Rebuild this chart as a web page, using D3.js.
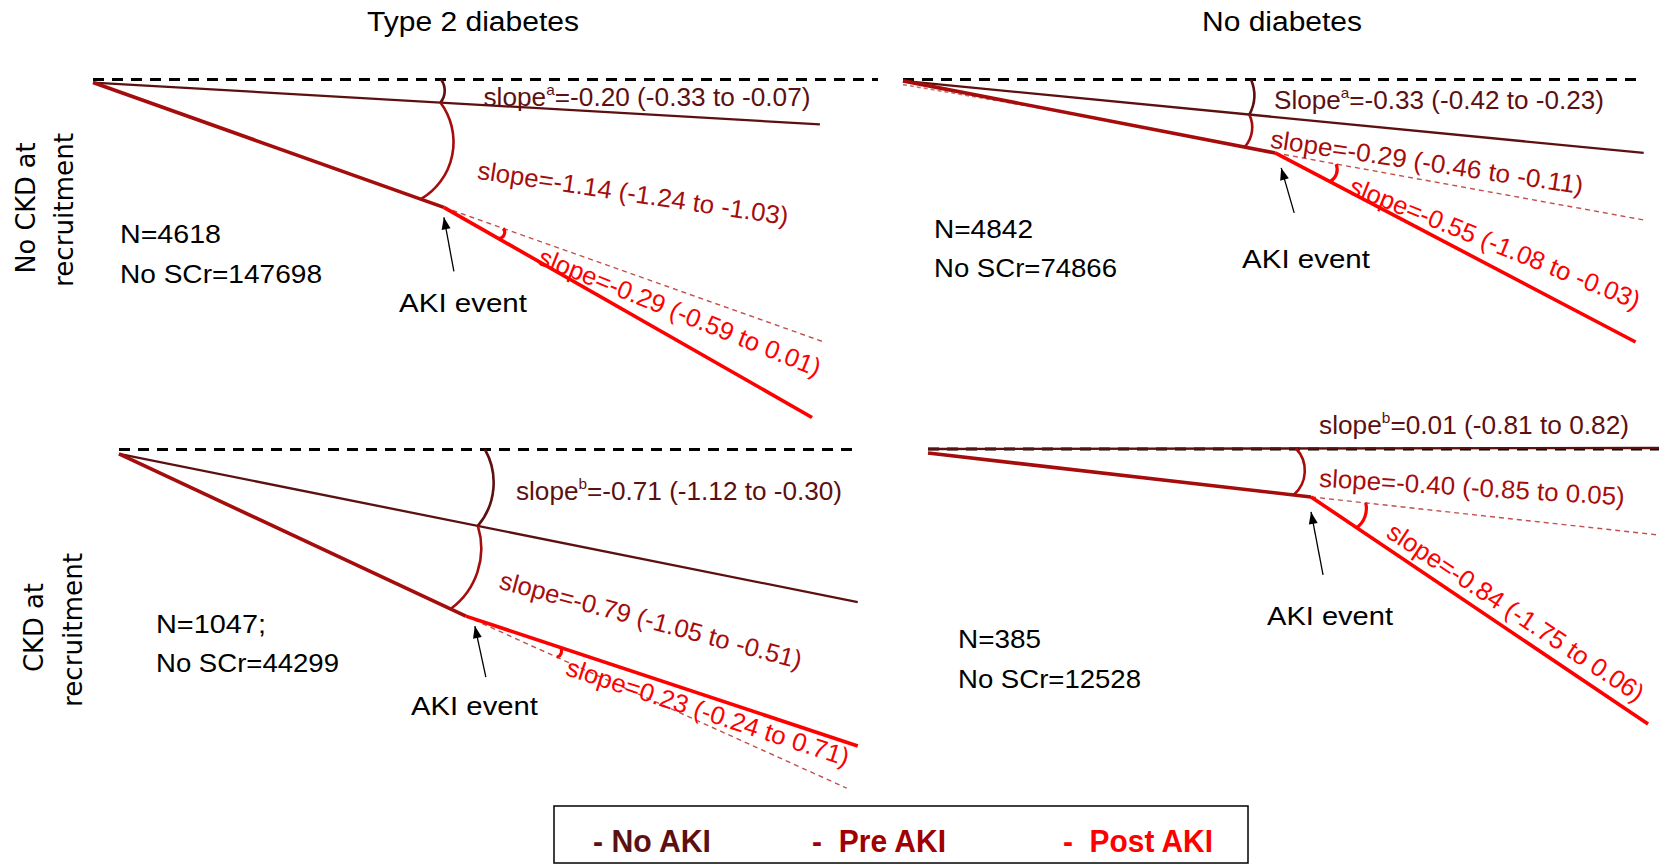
<!DOCTYPE html>
<html><head><meta charset="utf-8">
<script src="https://cdn.jsdelivr.net/npm/d3@7"></script>
<style>body{margin:0;background:#fff;} svg{display:block}</style>
</head><body>
<svg id="chart" width="1659" height="864"></svg>
<script>
// ================= DATA =================
const colTitles = ["Type 2 diabetes", "No diabetes"];
const rowTitles = [["No CKD at", "recruitment"], ["CKD at", "recruitment"]];
const legendLabels = ["- No AKI", "-  Pre AKI", "-  Post AKI"];
// panel order: T2D/no CKD, no diabetes/no CKD, T2D/CKD, no diabetes/CKD
const nPatients = [4618, 4842, 1047, 385];
const nSuffix = ["", "", ";", ""];
const nSCr = [147698, 74866, 44299, 12528];
const slopeWord = ["slope", "Slope", "slope", "slope"];
const noAkiSup = ["a", "a", "b", "b"];
const noAkiSlope = [-0.20, -0.33, -0.71, 0.01];
const noAkiLo = [-0.33, -0.42, -1.12, -0.81];
const noAkiHi = [-0.07, -0.23, -0.30, 0.82];
const preSlope = [-1.14, -0.29, -0.79, -0.40];
const preLo = [-1.24, -0.46, -1.05, -0.85];
const preHi = [-1.03, -0.11, -0.51, 0.05];
const postSlope = [-0.29, -0.55, 0.23, -0.84];
const postLo = [-0.59, -1.08, -0.24, -1.75];
const postHi = [0.01, -0.03, 0.71, 0.06];
// schematic trajectories: [time (years), change (units)]
const refLine = [[0, 0], [10, 0]];
const noAkiLine = [[[0, -0.09], [9.26, -1.32]], [[0, -0.04], [10.05, -2.16]], [[0, -0.13], [10.01, -4.49]], [[0, 0], [10, 0.03]]];
const preLine = [[[0, -0.09], [4.47, -3.76]], [[0, -0.04], [5.05, -2.16]], [[0, -0.13], [4.70, -4.90]], [[0, -0.12], [5.24, -1.41]]];
const postLine = [[[4.47, -3.76], [9.16, -9.94]], [[5.05, -2.16], [9.94, -7.72]], [[4.70, -4.90], [10.01, -8.72]], [[5.24, -1.41], [9.85, -8.09]]];
const extLine = [[[4.47, -3.76], [9.30, -7.71]], [[5.05, -2.16], [10.05, -4.13]], [[4.70, -4.90], [9.86, -9.96]], [[5.24, -1.41], [10, -2.53]]];
const ghostLine = [null, [[0, -0.15], [2.3, -1.0]], null, null];

// ================= LAYOUT / STYLE =================
const colors = {noAki: "#5c1010", pre: "#a50d0d", post: "#ff0000", ext: "#c0504d"};
const frames = [
  {x0: 93, x1: 878, y0: 79.5},
  {x0: 903, x1: 1640, y0: 79.5},
  {x0: 119, x1: 857, y0: 449.5},
  {x0: 928, x1: 1659, y0: 449}
];
const bigArcR = [348, 348, 366, 368];
const smallArcR = [63, 62, 100, 55];
const arc1Sag = [4, 4, 12, 0];
const arc2Sag = [22, 5, 14, 10];
const arc3Sag = [3.5, 3.5, 2.5, 4];
// [cx, cy, angle, length] for noAki, pre, post labels
const slopeLabelPos = [
  [[647, 97, 0, 327], [633, 193, 8.5, 314], [680, 312, 22, 302]],
  [[1439, 100, 0, 330], [1427, 162, 8.5, 316], [1495, 243, 22, 311]],
  [[679, 491, 0, 326], [651, 620, 15, 312], [708, 712, 18, 296]],
  [[1474, 425, 0, 310], [1472, 487, 3.5, 306], [1516, 612, 33.5, 302]]
];
// [x, baseline1, baseline2, width1, width2]
const nLabelPos = [[120, 243, 283, 101, 202], [934, 238, 277, 99, 183], [156, 633, 672, 110, 183], [958, 648, 688, 83, 183]];
// AKI label [x, baseline, width]
const akiLabelPos = [[399, 312, 128], [1242, 268, 128], [411, 715, 127], [1267, 625, 126]];
const arrowTipOff = [[0, 10], [6, 15], [9, 10], [0, 15]];
const arrowVec = [[10, 54], [13, 45], [11, 51], [12, 63]];

const FONT = "'Liberation Sans Narrow', 'Liberation Sans', Arial, sans-serif";
const svg = d3.select("#chart");
svg.append("rect").attr("width", 1659).attr("height", 864).attr("fill", "#fff");

const fmt = v => v.toFixed(2);
const ciText = (s, lo, hi) => "=" + fmt(s) + " (" + fmt(lo) + " to " + fmt(hi) + ")";

function circleLinePoint(c, r, p, q) {
  const dx = q[0] - p[0], dy = q[1] - p[1];
  const fx = p[0] - c[0], fy = p[1] - c[1];
  const a = dx * dx + dy * dy, b = 2 * (fx * dx + fy * dy), cc = fx * fx + fy * fy - r * r;
  const disc = Math.max(0, b * b - 4 * a * cc);
  const t = (-b + Math.sqrt(disc)) / (2 * a);
  return [p[0] + t * dx, p[1] + t * dy];
}
// arc through two points with a given bulge (sagitta), bulging away from the vertex
function bulgeArc(A, B, s) {
  const c = Math.hypot(B[0] - A[0], B[1] - A[1]);
  if (s <= 0.01) return `M${A[0]},${A[1]}L${B[0]},${B[1]}`;
  const R = (c * c / 4 + s * s) / (2 * s);
  return `M${A[0]},${A[1]}A${R},${R} 0 0 1 ${B[0]},${B[1]}`;
}

frames.forEach((f, i) => {
  const x = d3.scaleLinear().domain([0, 10]).range([f.x0, f.x1]);
  const y = d3.scaleLinear().domain([0, -10]).range([f.y0, f.y0 + 340]);
  const line = d3.line().x(d => x(d[0])).y(d => y(d[1]));
  const g = svg.append("g");
  const P = d => [x(d[0]), y(d[1])];

  g.append("path").attr("d", line(refLine)).attr("fill", "none")
    .attr("stroke", "#000").attr("stroke-width", 3).attr("stroke-dasharray", "11,8");
  g.append("path").attr("d", line(extLine[i])).attr("fill", "none")
    .attr("stroke", colors.ext).attr("stroke-width", 1.4).attr("stroke-dasharray", "5,4");
  if (ghostLine[i]) {
    g.append("path").attr("d", line(ghostLine[i])).attr("fill", "none")
      .attr("stroke", colors.ext).attr("stroke-width", 1.6).attr("stroke-dasharray", "4,3").attr("opacity", 0.8);
  }
  g.append("path").attr("d", line(noAkiLine[i])).attr("fill", "none")
    .attr("stroke", colors.noAki).attr("stroke-width", 2.3);
  g.append("path").attr("d", line(preLine[i])).attr("fill", "none")
    .attr("stroke", colors.pre).attr("stroke-width", 3.6);
  g.append("path").attr("d", line(postLine[i])).attr("fill", "none")
    .attr("stroke", colors.post).attr("stroke-width", 3.6);

  // angle arcs
  const c = P(preLine[i][0]);
  const R = bigArcR[i];
  const pDash = circleLinePoint(c, R, P(refLine[0]), P(refLine[1]));
  const pNo = circleLinePoint(c, R, P(noAkiLine[i][0]), P(noAkiLine[i][1]));
  const pPre = circleLinePoint(c, R, P(preLine[i][0]), P(preLine[i][1]));
  if (Math.hypot(pNo[0] - pDash[0], pNo[1] - pDash[1]) > 3) {
    g.append("path").attr("d", bulgeArc(pDash, pNo, arc1Sag[i])).attr("fill", "none")
      .attr("stroke", colors.noAki).attr("stroke-width", 2.6);
  }
  g.append("path").attr("d", bulgeArc(pNo, pPre, arc2Sag[i])).attr("fill", "none")
    .attr("stroke", colors.pre).attr("stroke-width", 2.6);
  const ca = P(postLine[i][0]);
  const r2 = smallArcR[i];
  let pA = circleLinePoint(ca, r2, P(postLine[i][0]), P(postLine[i][1]));
  let pB = circleLinePoint(ca, r2, P(extLine[i][0]), P(extLine[i][1]));
  if (pA[1] > pB[1]) { const t = pA; pA = pB; pB = t; }
  g.append("path").attr("d", bulgeArc(pA, pB, arc3Sag[i])).attr("fill", "none")
    .attr("stroke", colors.post).attr("stroke-width", 3.2);

  // slope labels
  const lp = slopeLabelPos[i];
  const t0 = g.append("text").attr("transform", `translate(${lp[0][0]},${lp[0][1]}) rotate(${lp[0][2]})`)
    .attr("text-anchor", "middle").attr("dominant-baseline", "central")
    .attr("font-family", FONT).attr("font-size", 25.5).attr("fill", colors.noAki)
    .attr("textLength", lp[0][3]).attr("lengthAdjust", "spacingAndGlyphs");
  t0.append("tspan").text(slopeWord[i]);
  t0.append("tspan").attr("font-size", 15).attr("dy", -8).text(noAkiSup[i]);
  t0.append("tspan").attr("dy", 8).text(ciText(noAkiSlope[i], noAkiLo[i], noAkiHi[i]));

  const addRot = (pos, txt, col) => g.append("text")
    .attr("transform", `translate(${pos[0]},${pos[1]}) rotate(${pos[2]})`)
    .attr("text-anchor", "middle").attr("dominant-baseline", "central")
    .attr("font-family", FONT).attr("font-size", 25.5).attr("fill", col)
    .attr("textLength", pos[3]).attr("lengthAdjust", "spacingAndGlyphs").text(txt);
  addRot(lp[1], "slope" + ciText(preSlope[i], preLo[i], preHi[i]), colors.pre);
  addRot(lp[2], "slope" + ciText(postSlope[i], postLo[i], postHi[i]), colors.post);

  // N labels
  const np = nLabelPos[i];
  g.append("text").attr("x", np[0]).attr("y", np[1]).attr("font-family", FONT).attr("font-size", 25.5)
    .attr("fill", "#000").attr("textLength", np[3]).attr("lengthAdjust", "spacingAndGlyphs")
    .text("N=" + nPatients[i] + nSuffix[i]);
  g.append("text").attr("x", np[0]).attr("y", np[2]).attr("font-family", FONT).attr("font-size", 25.5)
    .attr("fill", "#000").attr("textLength", np[4]).attr("lengthAdjust", "spacingAndGlyphs")
    .text("No SCr=" + nSCr[i]);

  // AKI event arrow + label
  const ak = P(postLine[i][0]);
  const tip = [ak[0] + arrowTipOff[i][0], ak[1] + arrowTipOff[i][1]];
  const tail = [tip[0] + arrowVec[i][0], tip[1] + arrowVec[i][1]];
  g.append("line").attr("x1", tail[0]).attr("y1", tail[1]).attr("x2", tip[0]).attr("y2", tip[1])
    .attr("stroke", "#000").attr("stroke-width", 1.3);
  const ang = Math.atan2(tip[1] - tail[1], tip[0] - tail[0]);
  const L = 12, W = 4.5;
  const bx = tip[0] - L * Math.cos(ang), by = tip[1] - L * Math.sin(ang);
  g.append("path").attr("d", `M${tip[0]},${tip[1]}L${bx + W * Math.sin(ang)},${by - W * Math.cos(ang)}L${bx - W * Math.sin(ang)},${by + W * Math.cos(ang)}Z`)
    .attr("fill", "#000");
  const al = akiLabelPos[i];
  g.append("text").attr("x", al[0]).attr("y", al[1]).attr("font-family", FONT).attr("font-size", 25.5)
    .attr("fill", "#000").attr("textLength", al[2]).attr("lengthAdjust", "spacingAndGlyphs").text("AKI event");
});

// column titles
const titlePos = [[473, 31, 212], [1282, 31, 160]];
colTitles.forEach((t, j) => {
  svg.append("text").attr("x", titlePos[j][0]).attr("y", titlePos[j][1]).attr("text-anchor", "middle")
    .attr("font-family", FONT).attr("font-size", 27).attr("fill", "#000")
    .attr("textLength", titlePos[j][2]).attr("lengthAdjust", "spacingAndGlyphs").text(t);
});
// row titles
const rowPos = [[[35, 208, 131], [73, 210, 154]], [[43, 627.5, 89], [82, 630, 154]]];
rowTitles.forEach((rt, r) => {
  rt.forEach((t, k) => {
    const p = rowPos[r][k];
    svg.append("text").attr("transform", `translate(${p[0]},${p[1]}) rotate(-90)`).attr("text-anchor", "middle")
      .attr("font-family", "'DejaVu Sans', Verdana, sans-serif").attr("font-size", 26).attr("fill", "#000")
      .attr("textLength", p[2]).attr("lengthAdjust", "spacingAndGlyphs").text(t);
  });
});

// legend
svg.append("rect").attr("x", 554).attr("y", 806).attr("width", 694).attr("height", 57)
  .attr("fill", "#fff").attr("stroke", "#000").attr("stroke-width", 1.5);
const legendPos = [[593, 118], [812, 134], [1063, 150]];
const legendCols = [colors.noAki, "#a00000", colors.post];
legendLabels.forEach((t, k) => {
  svg.append("text").attr("x", legendPos[k][0]).attr("y", 852).style("white-space", "pre")
    .attr("font-family", FONT).attr("font-weight", "bold").attr("font-size", 32).attr("fill", legendCols[k])
    .attr("textLength", legendPos[k][1]).attr("lengthAdjust", "spacingAndGlyphs").text(t);
});
</script>
</body></html>
